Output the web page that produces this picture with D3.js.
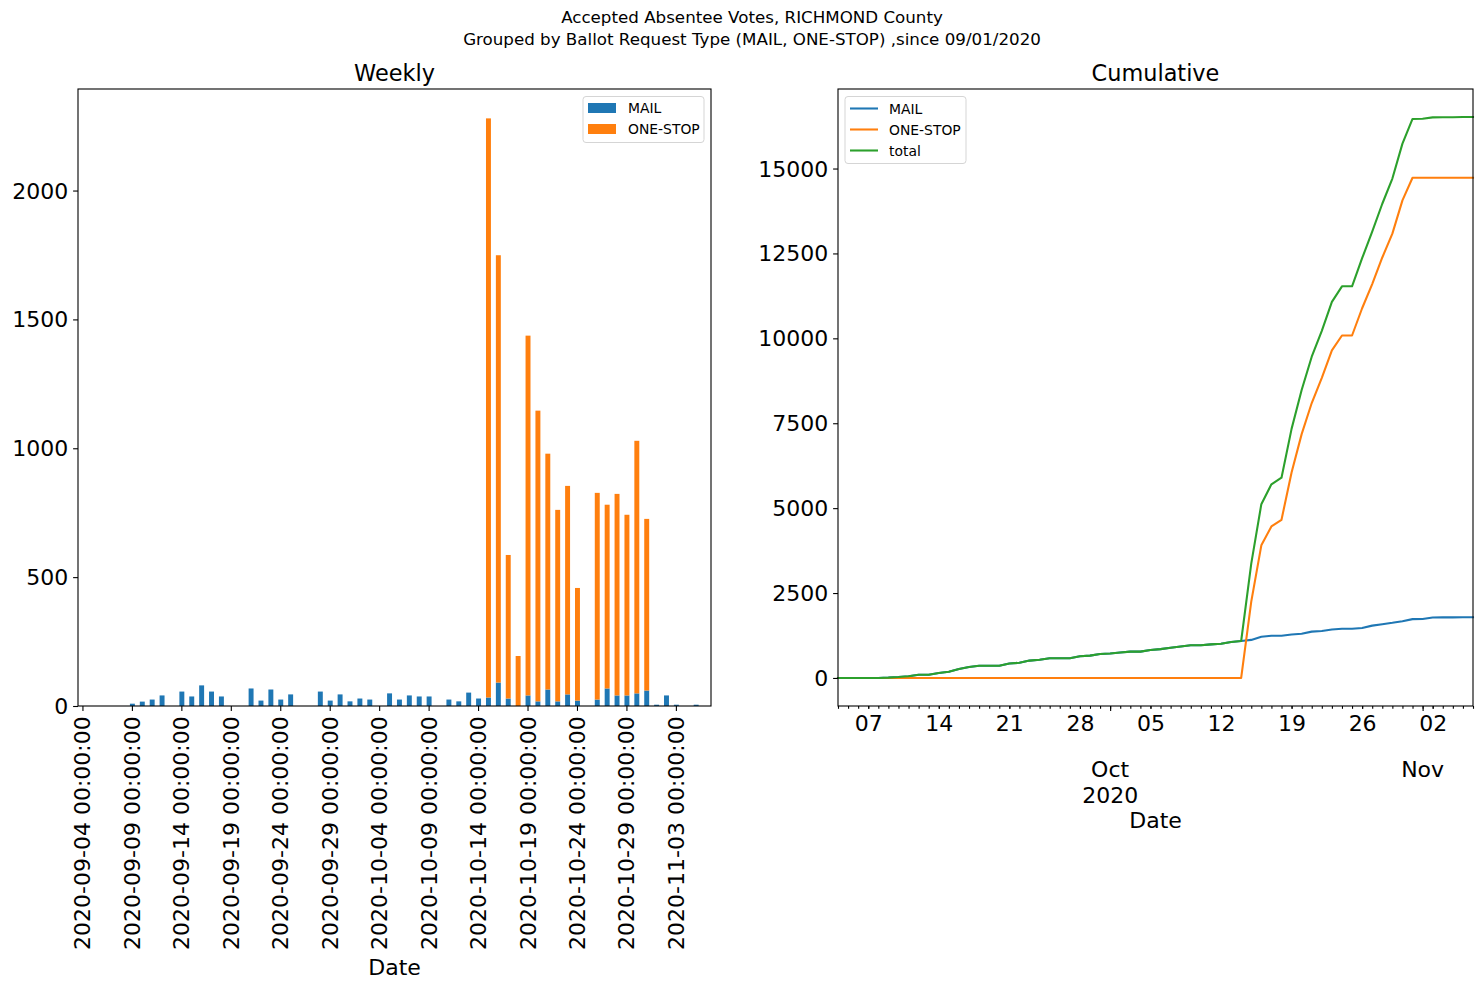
<!DOCTYPE html>
<html><head><meta charset="utf-8">
<script src="https://cdn.jsdelivr.net/npm/d3@7"></script>
<style>
body{margin:0;background:#fff}
svg{display:block}
text{font-family:"DejaVu Sans",sans-serif;fill:#000}
</style>
</head><body>
<svg id="c" width="1481" height="988"></svg>
<script>
// ---------------- DATA ----------------
const dates = [
"2020-09-04","2020-09-05","2020-09-06","2020-09-07","2020-09-08","2020-09-09","2020-09-10","2020-09-11",
"2020-09-12","2020-09-13","2020-09-14","2020-09-15","2020-09-16","2020-09-17","2020-09-18","2020-09-19",
"2020-09-20","2020-09-21","2020-09-22","2020-09-23","2020-09-24","2020-09-25","2020-09-26","2020-09-27",
"2020-09-28","2020-09-29","2020-09-30","2020-10-01","2020-10-02","2020-10-03","2020-10-04","2020-10-05",
"2020-10-06","2020-10-07","2020-10-08","2020-10-09","2020-10-10","2020-10-11","2020-10-12","2020-10-13",
"2020-10-14","2020-10-15","2020-10-16","2020-10-17","2020-10-18","2020-10-19","2020-10-20","2020-10-21",
"2020-10-22","2020-10-23","2020-10-24","2020-10-25","2020-10-26","2020-10-27","2020-10-28","2020-10-29",
"2020-10-30","2020-10-31","2020-11-01","2020-11-02","2020-11-03","2020-11-04","2020-11-05","2020-11-06"];
const mail = [
 0, 0, 0, 0, 0, 9,17,25,
41, 0,56,37,80,56,37, 0,
 0,68,21,64,25,45, 0, 0,
56,21,45,18,29,25, 0,49,
25,41,37,37, 0,25,18,52,
29,33,91,29, 0,41,18,64,
18,45,21, 0,25,68,41,41,
49,60, 5,41, 5, 0, 5, 0];
const oneStop = [
 0,0,0,0,0,0,0,0,
 0,0,0,0,0,0,0,0,
 0,0,0,0,0,0,0,0,
 0,0,0,0,0,0,0,0,
 0,0,0,0,0,0,0,0,
 0,2247,1658,557,194,1396,1128,915,
743,809,437,0,802,713,782,701,
980,666,0,0,0,0,0,0];
const seriesNames = ["MAIL","ONE-STOP"];
const cumNames = ["MAIL","ONE-STOP","total"];
const leftYTicks = [0,500,1000,1500,2000];
const rightYTicks = [0,2500,5000,7500,10000,12500,15000];
const titleLines = ["Accepted Absentee Votes, RICHMOND County",
  "Grouped by Ballot Request Type (MAIL, ONE-STOP) ,since 09/01/2020"];
const colors = ["#1f77b4","#ff7f0e","#2ca02c"];

// ---------------- SETUP ----------------
const svg = d3.select("#c");
const FS = 22, TFS = 22.4, LFS = 13.9, MAJ = 4.9, MIN = 2.8, PAD = 4.9, SW = 1.1;
const parse = d3.timeParse("%Y-%m-%d");

// suptitle (one text element, two lines)
const sup = svg.append("text").attr("x",752).attr("y",23).attr("text-anchor","middle").style("font-size","16.7px");
titleLines.forEach((t,i)=>sup.append("tspan").attr("x",752).attr("dy",i?22:0).text(t));

// ---------------- LEFT: WEEKLY ----------------
const L = {x0:78,x1:711,y0:89,y1:706};
const rows = dates.map((d,i)=>({date:d,"MAIL":mail[i],"ONE-STOP":oneStop[i]}));
const stack = d3.stack().keys(seriesNames)(rows);
const xB = d3.scaleBand().domain(dates).range([L.x0,L.x1]).paddingInner(0.5).paddingOuter(0.25);
const maxL = d3.max(rows,r=>r["MAIL"]+r["ONE-STOP"]);
const yL = d3.scaleLinear().domain([0,maxL*1.05]).range([L.y1,L.y0]);

const gL = svg.append("g");
stack.forEach((s,k)=>{
  gL.append("g").attr("fill",colors[k]).selectAll("rect").data(s).join("rect")
    .attr("x",d=>xB(d.data.date)).attr("width",xB.bandwidth())
    .attr("y",d=>yL(d[1])).attr("height",d=>Math.max(0,yL(d[0])-yL(d[1])));
});

function styleAxis(g){
  g.select(".domain").remove();
  g.selectAll(".tick line").attr("stroke","#000").attr("stroke-width",SW);
  g.selectAll(".tick text").style("font-size",FS+"px").attr("fill","#000")
   .style("font-family","DejaVu Sans");
}
const axLY = svg.append("g").attr("transform",`translate(${L.x0},0)`)
  .call(d3.axisLeft(yL).tickValues(leftYTicks).tickSize(MAJ).tickPadding(PAD).tickFormat(d3.format("d")));
styleAxis(axLY);
axLY.selectAll(".tick text").attr("dy",null).attr("dominant-baseline","central");

const leftXTicks = dates.filter((d,i)=>i%5===0);
const axLX = svg.append("g").attr("transform",`translate(0,${L.y1})`)
  .call(d3.axisBottom(xB).tickValues(leftXTicks).tickSize(MAJ).tickPadding(PAD).tickFormat(d=>d+" 00:00:00"));
styleAxis(axLX);
axLX.selectAll(".tick text").attr("transform","rotate(-90)").attr("text-anchor","end")
  .attr("x",-(MAJ+PAD+0.5)).attr("y",0).attr("dy",null).attr("dominant-baseline","central");

svg.append("rect").attr("x",L.x0).attr("y",L.y0).attr("width",L.x1-L.x0).attr("height",L.y1-L.y0)
  .attr("fill","none").attr("stroke","#000").attr("stroke-width",SW);
svg.append("text").attr("x",(L.x0+L.x1)/2).attr("y",81).attr("text-anchor","middle")
  .style("font-size",TFS+"px").text("Weekly");
svg.append("text").attr("x",(L.x0+L.x1)/2).attr("y",975).attr("text-anchor","middle")
  .style("font-size",FS+"px").text("Date");

// legend left
const lgL = svg.append("g");
lgL.append("rect").attr("x",583).attr("y",96.5).attr("width",121).attr("height",46).attr("rx",3)
  .attr("fill","#fff").attr("fill-opacity",0.8).attr("stroke","#d5d5d5").attr("stroke-width",1);
seriesNames.forEach((n,i)=>{
  lgL.append("rect").attr("x",588).attr("y",103+i*21).attr("width",28).attr("height",10).attr("fill",colors[i]);
  lgL.append("text").attr("x",628).attr("y",108+i*21).attr("dominant-baseline","central")
    .style("font-size",LFS+"px").text(n);
});

// ---------------- RIGHT: CUMULATIVE ----------------
const R = {x0:838,x1:1473,y0:89,y1:706};
const cMail = Array.from(d3.cumsum(mail));
const cOne = Array.from(d3.cumsum(oneStop));
const cTot = cMail.map((v,i)=>v+cOne[i]);
const cum = [cMail,cOne,cTot];
const tDates = dates.map(parse);
const xT = d3.scaleTime().domain([tDates[0],tDates[tDates.length-1]]).range([R.x0,R.x1]);
const minR = Math.min(0,d3.min(cTot)), maxR = d3.max(cTot), span = maxR-minR;
const yR = d3.scaleLinear().domain([minR-0.05*span,maxR+0.05*span]).range([R.y1,R.y0]);

const line = d3.line().x((d,i)=>xT(tDates[i])).y(d=>yR(d));
const gR = svg.append("g");
cum.forEach((s,k)=>{
  gR.append("path").attr("d",line(s)).attr("fill","none").attr("stroke",colors[k])
    .attr("stroke-width",2.08).attr("stroke-linejoin","round").attr("stroke-linecap","square");
});

const axRY = svg.append("g").attr("transform",`translate(${R.x0},0)`)
  .call(d3.axisLeft(yR).tickValues(rightYTicks).tickSize(MAJ).tickPadding(PAD).tickFormat(d3.format("d")));
styleAxis(axRY);
axRY.selectAll(".tick text").attr("dy",null).attr("dominant-baseline","central");

// x axis ticks: daily minor (weekly labelled), month major
const dayTicks = d3.timeDay.range(tDates[0], d3.timeDay.offset(tDates[tDates.length-1],1));
const axRXmin = svg.append("g").attr("transform",`translate(0,${R.y1})`)
  .call(d3.axisBottom(xT).tickValues(dayTicks).tickSize(MIN).tickFormat(""));
styleAxis(axRXmin);
const weekTicks = d3.timeMonday.range(tDates[0], d3.timeDay.offset(tDates[tDates.length-1],1));
const axRXw = svg.append("g").attr("transform",`translate(0,${R.y1})`)
  .call(d3.axisBottom(xT).tickValues(weekTicks).tickSize(MIN).tickPadding(PAD).tickFormat(d3.timeFormat("%d")));
styleAxis(axRXw);
axRXw.selectAll(".tick text").attr("dy",null).attr("y",731).attr("transform",`translate(0,${-R.y1})`);
const monthTicks = d3.timeMonth.range(tDates[0], tDates[tDates.length-1]);
const monthFmt = d=> d.getMonth()===9 ? [d3.timeFormat("%b")(d), d3.timeFormat("%Y")(d)] : [d3.timeFormat("%b")(d)];
const axRXm = svg.append("g").attr("transform",`translate(0,${R.y1})`)
  .call(d3.axisBottom(xT).tickValues(monthTicks).tickSize(MAJ).tickFormat(""));
styleAxis(axRXm);
monthTicks.forEach(m=>{
  const t = svg.append("text").attr("x",xT(m)).attr("y",777).attr("text-anchor","middle")
    .style("font-size",FS+"px");
  monthFmt(m).forEach((s,j)=>t.append("tspan").attr("x",xT(m)).attr("dy",j?26:0).text(s));
});

svg.append("rect").attr("x",R.x0).attr("y",R.y0).attr("width",R.x1-R.x0).attr("height",R.y1-R.y0)
  .attr("fill","none").attr("stroke","#000").attr("stroke-width",SW);
svg.append("text").attr("x",(R.x0+R.x1)/2).attr("y",81).attr("text-anchor","middle")
  .style("font-size",TFS+"px").text("Cumulative");
svg.append("text").attr("x",(R.x0+R.x1)/2).attr("y",828).attr("text-anchor","middle")
  .style("font-size",FS+"px").text("Date");

// legend right
const lgR = svg.append("g");
lgR.append("rect").attr("x",845).attr("y",96.5).attr("width",121).attr("height",67).attr("rx",3)
  .attr("fill","#fff").attr("fill-opacity",0.8).attr("stroke","#d5d5d5").attr("stroke-width",1);
cumNames.forEach((n,i)=>{
  lgR.append("line").attr("x1",850).attr("x2",878).attr("y1",108.5+i*21).attr("y2",108.5+i*21)
    .attr("stroke",colors[i]).attr("stroke-width",2.08);
  lgR.append("text").attr("x",889).attr("y",108.5+i*21).attr("dominant-baseline","central")
    .style("font-size",LFS+"px").text(n);
});
</script>
</body></html>
